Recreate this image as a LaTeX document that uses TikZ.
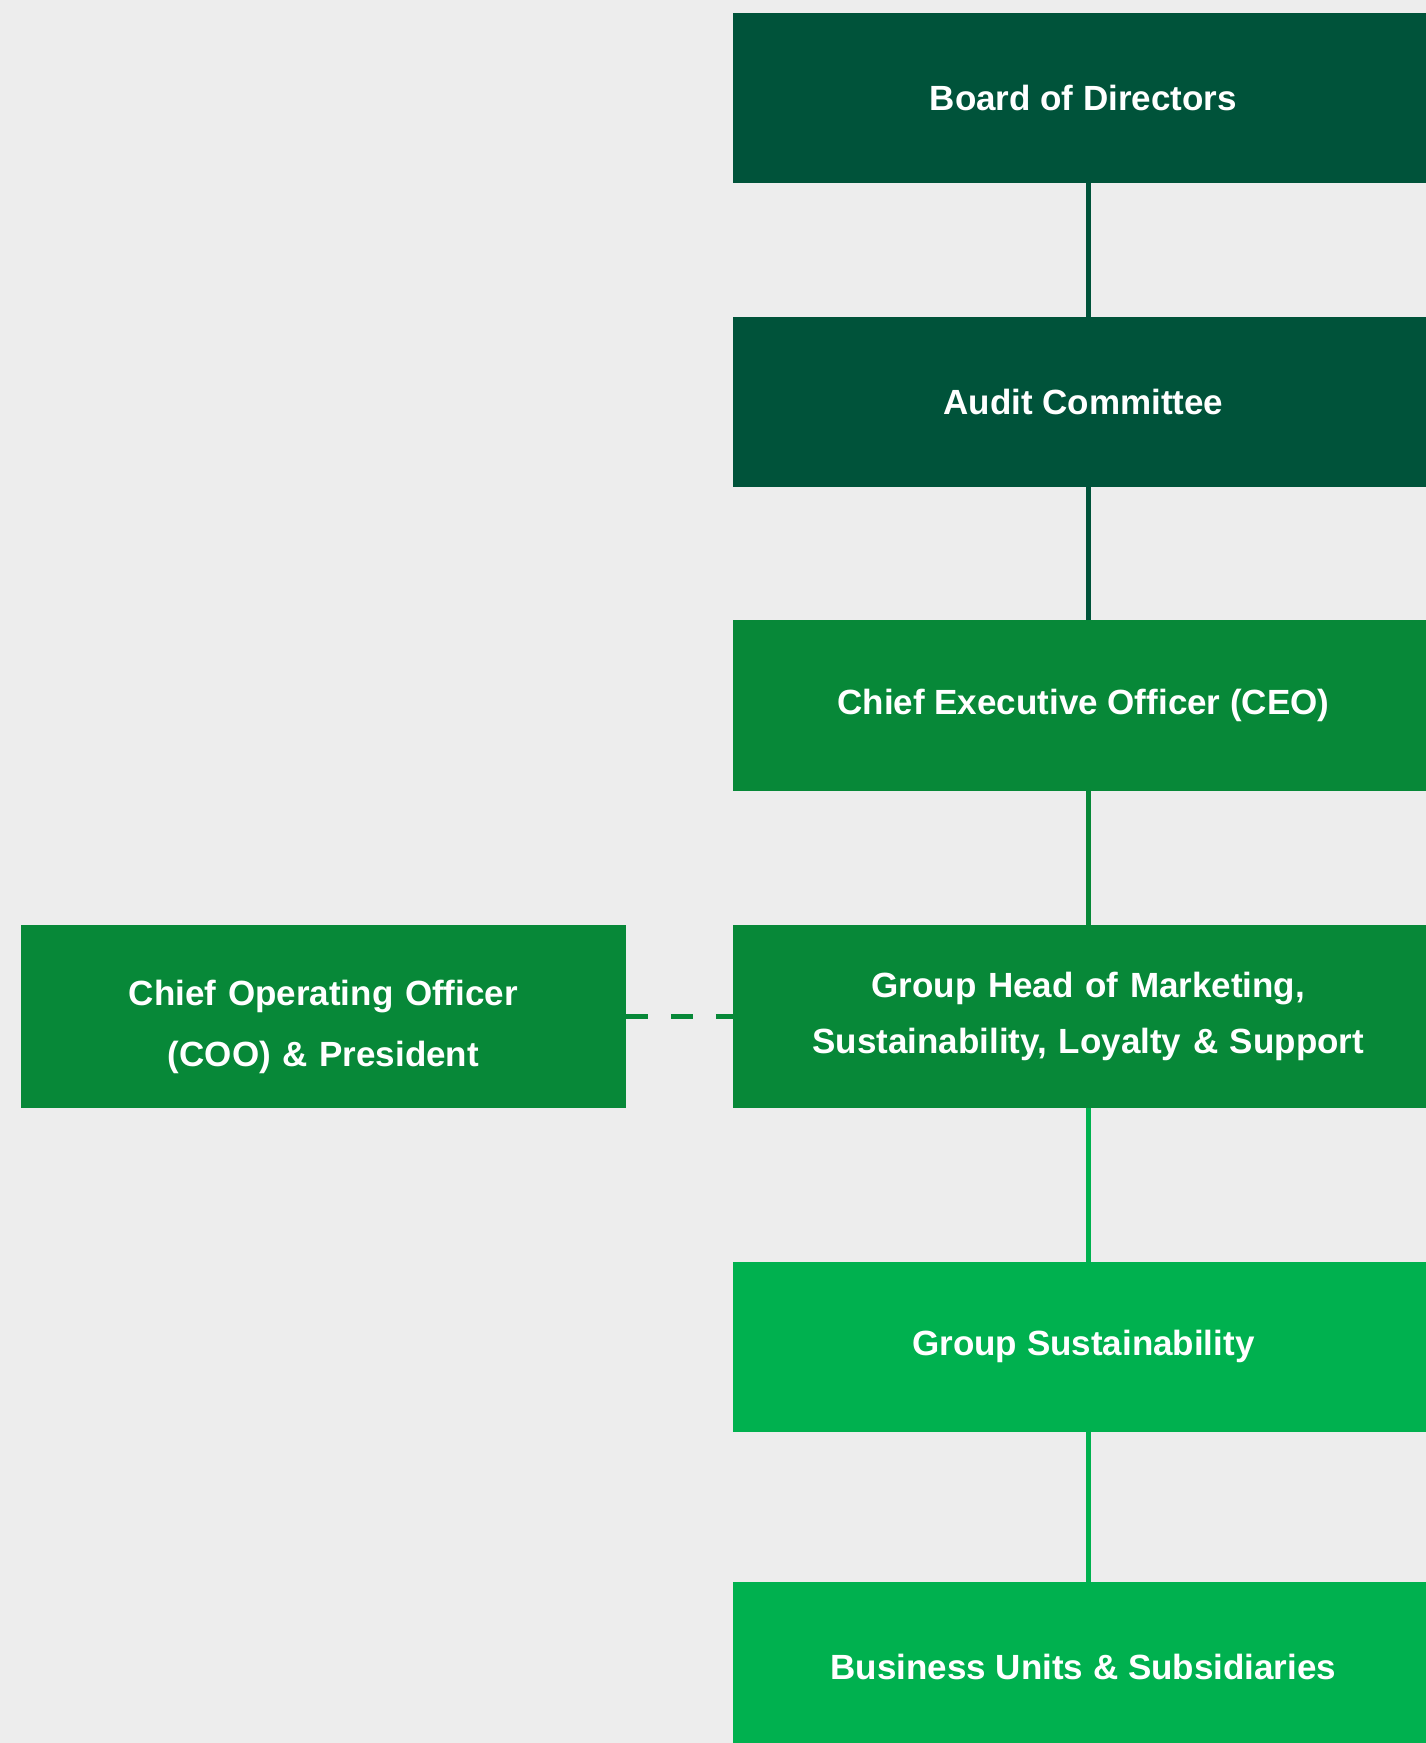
\documentclass[tikz,border=0pt]{standalone}
\usepackage{fontspec}
\setmainfont{Liberation Sans}
\usepackage{tikz}
\usetikzlibrary{matrix}
\definecolor{bgGrey}{HTML}{EDEDED}
\definecolor{boardGreen}{HTML}{00533A}
\definecolor{execGreen}{HTML}{078838}
\definecolor{unitGreen}{HTML}{00B14F}
\tikzset{
  orgbox/.style={text=white, font=\bfseries\fontsize{35}{56}\selectfont, align=center,
    inner sep=0pt, outer sep=0pt, minimum width=710pt, minimum height=170pt},
  link/.style={line width=4.5pt},
}

\begin{document}
\begin{tikzpicture}[x=1pt,y=-1pt]
  \fill[bgGrey] (0,0) rectangle (1426,1743);
  \useasboundingbox (0,0) rectangle (1426,1743);
  \matrix (m) [matrix of nodes, anchor=north west, inner sep=0pt, outer sep=0pt,
    row sep=133.4pt, column sep=107.5pt, nodes={orgbox, anchor=center}] at (21.1,13.3)
  {
 & |[fill=boardGreen]| Board of Directors \\
 & |[fill=boardGreen]| Audit Committee \\
 & |[fill=execGreen, minimum height=171.2pt]| Chief Executive Officer (CEO) \\
|[fill=execGreen, minimum width=604.7pt, minimum height=183.4pt, text width=580pt, font=\bfseries\fontsize{35}{61}\selectfont]| \rule{0pt}{46pt}Chief Operating Officer\par (COO) \& President
 & |[fill=execGreen, minimum height=183.4pt, text width=690pt]| Group Head of Marketing,\par Sustainability, Loyalty \& Support \\[20.8pt]
 & |[fill=unitGreen, minimum height=169.2pt]| Group Sustainability \\[16.7pt]
 & |[fill=unitGreen]| Business Units \& Subsidiaries \\
};
  \path[link]
  (m-1-2) edge [boardGreen] (m-2-2)
  (m-2-2) edge [boardGreen] (m-3-2)
  (m-3-2) edge [execGreen] (m-4-2)
  (m-4-2) edge [unitGreen] (m-5-2)
  (m-5-2) edge [unitGreen] (m-6-2)
  (m-4-1) edge [execGreen, dash pattern=on 22pt off 23pt] (m-4-2)
  ;
\end{tikzpicture}
\end{document}
